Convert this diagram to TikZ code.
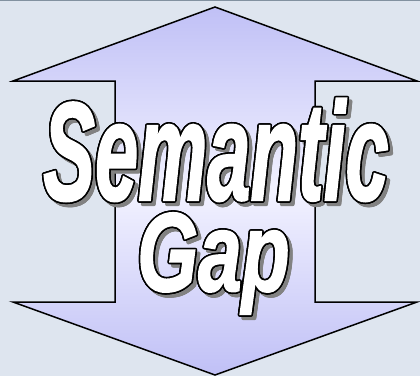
\documentclass[tikz,border=0pt]{standalone}
\usepackage{fontspec}
\setmainfont{Liberation Sans}
\newfontfamily\heavyit[FakeBold=1.6]{Liberation Sans Bold Italic}
\usetikzlibrary{calc}
\definecolor{bgcol}{RGB}{222,229,239}
\definecolor{arrowend}{RGB}{192,192,246}
\definecolor{arrowmid}{RGB}{242,242,255}
\definecolor{shadowcol}{RGB}{130,130,130}
\tikzset{
  wordart/.style={inner sep=0pt, anchor=base west},
}
\newcommand{\semword}{\fontsize{140}{140}\heavyit\scalebox{0.555}[1]{Semantic}}
\newcommand{\gapword}{\fontsize{112}{112}\heavyit\scalebox{0.70}[1]{Gap}}
\newcommand{\outlined}[3]{% name, position, content
  \foreach \ang in {0,30,...,330}{
    \node[wordart, text=shadowcol] at ($(#2)+(3.5,3.5)+(\ang:1.4)$) {#3};
  }
  \foreach \ang in {0,20,...,340}{
    \node[wordart, text=black] at ($(#2)+(\ang:1.6)$) {#3};
  }
  \node[wordart, text=white] (#1) at (#2) {#3};
}
\begin{document}
\begin{tikzpicture}[x=1pt,y=-1pt]
  \fill[bgcol] (0,0) rectangle (420,376);
  \useasboundingbox (0,0) rectangle (420,376);
  \draw[color={rgb,255:red,130;green,145;blue,160}, line width=1.2pt] (0,0.6) -- (420,0.6);
  \coordinate (tipT) at (215,7);
  \coordinate (tipB) at (215,375);
  \shade[top color=arrowend, bottom color=arrowend, middle color=arrowmid]
    (tipT) -- (417,81) -- (315,81) -- (315,302) -- (417,302) -- (tipB)
    -- (13,302) -- (115,302) -- (115,81) -- (13,81) -- cycle;
  \draw[line width=1.5pt, line join=miter]
    (tipT) -- (417,81) -- (315,81) -- (315,302) -- (417,302) -- (tipB)
    -- (13,302) -- (115,302) -- (115,81) -- (13,81) -- cycle;
  \coordinate (semPos) at (43,200);
  \coordinate (gapPos) at (137,291);
  \outlined{sem}{semPos}{\semword}
  \outlined{gap}{gapPos}{\gapword}
\end{tikzpicture}
\end{document}
